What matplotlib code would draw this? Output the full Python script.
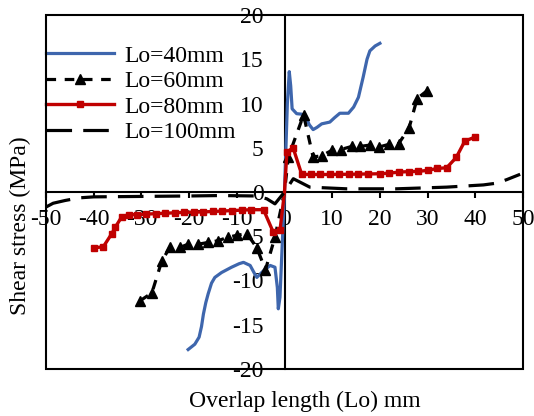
import numpy as np
import matplotlib
matplotlib.use('Agg')
import matplotlib.pyplot as plt
from matplotlib.patches import Rectangle

plt.rcParams['font.family'] = ['Liberation Serif', 'DejaVu Serif']
plt.rcParams['axes.unicode_minus'] = False

# Lo = 40 mm (blue, smoothed)
x40 = [-20.2, -18.8, -17.9, -17.4, -17.0, -16.5, -16.0, -15.3, -14.6, -13.2, -11.1, -9.5,
       -8.6, -7.2, -6.3, -5.8, -4.4, -3.0, -2.0, -1.5, -1.3, -0.95, 0.0, 0.6, 1.0, 1.3,
       1.6, 2.55, 3.5, 4.3, 5.2, 6.0, 6.8, 7.8, 9.5, 10.5, 11.6, 13.4, 14.5, 15.5, 16.5,
       17.3, 17.9, 19.0, 20.0]
y40 = [-17.8, -17.2, -16.4, -15.2, -13.8, -12.5, -11.5, -10.3, -9.65, -9.1, -8.5, -8.1,
       -7.95, -8.3, -9.2, -9.65, -8.9, -8.3, -8.5, -10.8, -13.2, -11.9, 0.0, 10.0, 13.6, 12.0,
       9.4, 8.85, 8.8, 8.7, 7.6, 7.05, 7.3, 7.7, 7.9, 8.4, 8.9, 8.9, 9.6, 10.7, 13.0,
       15.0, 15.95, 16.5, 16.8]

# Lo = 60 mm (black dashed, triangles)
x60 = [-30.3, -27.8, -25.7, -24.0, -21.9, -20.2, -18.1, -16.0, -13.9, -11.8, -10.0, -7.9,
       -5.8, -4.0, -2.0, 0.0, 0.8, 4.0, 6.0, 7.8, 9.9, 11.8, 14.1, 15.8, 17.9, 19.9,
       22.0, 23.9, 26.1, 27.8, 29.9]
y60 = [-12.3, -11.4, -7.75, -6.25, -6.25, -5.9, -5.9, -5.7, -5.5, -5.1, -4.9, -4.7,
       -6.3, -8.8, -5.1, 0.0, 3.95, 8.7, 3.95, 4.1, 4.7, 4.8, 5.15, 5.15, 5.3, 5.1,
       5.4, 5.45, 7.2, 10.55, 11.45]

# Lo = 80 mm (red, squares)
x80 = [-40.0, -38.0, -36.2, -35.5, -34.1, -32.5, -31.0, -29.0, -27.0, -25.0, -23.0, -21.0,
       -19.0, -17.0, -15.0, -13.0, -11.0, -9.0, -7.0, -4.4, -2.35, -0.95, 0.0, 0.5, 1.8,
       3.6, 5.5, 7.5, 9.5, 11.5, 13.5, 15.5, 17.5, 20.0, 22.0, 24.0, 26.0, 28.0, 30.0,
       32.0, 34.0, 36.0, 37.8, 39.9]
y80 = [-6.3, -6.2, -4.7, -4.0, -2.78, -2.55, -2.55, -2.5, -2.45, -2.4, -2.35, -2.3,
       -2.28, -2.25, -2.2, -2.15, -2.1, -2.05, -2.0, -2.0, -4.55, -4.35, 0.0, 4.5, 5.0,
       2.0, 1.98, 1.98, 1.98, 2.0, 2.0, 2.02, 2.04, 2.06, 2.13, 2.25, 2.3, 2.33, 2.44,
       2.66, 2.74, 3.9, 5.75, 6.2]

# Lo = 100 mm (black long dash)
x100 = [-50.0, -48.5, -46.0, -43.0, -40.0, -30.0, -20.0, -13.5, -6.0, -3.7, -2.0, 0.0,
        1.85, 5.3, 13.0, 23.5, 34.0, 41.7, 44.5, 46.6, 49.4]
y100 = [-1.7, -1.27, -0.96, -0.66, -0.55, -0.5, -0.45, -0.4, -0.45, -0.77, -1.34, 0.0,
        1.5, 0.55, 0.36, 0.36, 0.55, 0.8, 1.0, 1.4, 2.0]

xticks = np.arange(-50, 51, 10)
yticks = np.arange(-20, 21, 5)

fig = plt.figure(figsize=(5.34, 4.16), dpi=100)
ax = fig.add_axes([46/534, 47/416, 477/534, 354/416])

ax.plot(x40, y40, color='#3E66AD', lw=2.3, label='Lo=40mm', zorder=3)
ax.plot(x60, y60, color='black', lw=2.3, dashes=(3, 2.7), marker='^', markersize=7,
        markevery=[i for i in range(len(x60)) if x60[i] != 0.0], label='Lo=60mm', zorder=4)
ax.plot(x80, y80, color='#C00000', lw=2.4, marker='s', markersize=4.8,
        markevery=[i for i in range(len(x80)) if x80[i] != 0.0], label='Lo=80mm', zorder=5)
ax.plot(x100, y100, color='black', lw=2.3, dashes=(8, 3.5), label='Lo=100mm', zorder=6)

ax.set_xlim(-50, 50)
ax.set_ylim(-20, 20)
ax.set_xticks(xticks)
ax.set_yticks(yticks)
ax.set_xticklabels([str(v) for v in xticks])
ax.set_yticklabels([str(v) for v in yticks])

# axes crossing at zero, plus an outer frame
ax.spines['left'].set_position(('data', 0))
ax.spines['bottom'].set_position(('data', 0))
ax.spines['right'].set_visible(False)
ax.spines['top'].set_visible(False)
for s in ('left', 'bottom'):
    ax.spines[s].set_linewidth(1.5)
ax.add_patch(Rectangle((0, 0), 1, 1, transform=ax.transAxes, fill=False,
                       lw=1.5, edgecolor='black', clip_on=False, zorder=10))

ax.tick_params(axis='x', direction='out', length=4, width=1.5, pad=8, labelsize=17)
ax.tick_params(axis='y', length=0, pad=15, labelsize=17)

fig.text(0.038, 0.457, 'Shear stress (MPa)', rotation=90, ha='center', va='center', fontsize=17)
fig.text(0.571, 0.034, 'Overlap length (Lo) mm', ha='center', va='center', fontsize=17)

ax.legend(loc='upper left', bbox_to_anchor=(0.0, 0.915), frameon=False, fontsize=17,
          handlelength=2.9, handletextpad=0.4, labelspacing=0.17, borderpad=0.0,
          borderaxespad=0.0, markerfirst=True)

fig.savefig('out.png', dpi=100)
